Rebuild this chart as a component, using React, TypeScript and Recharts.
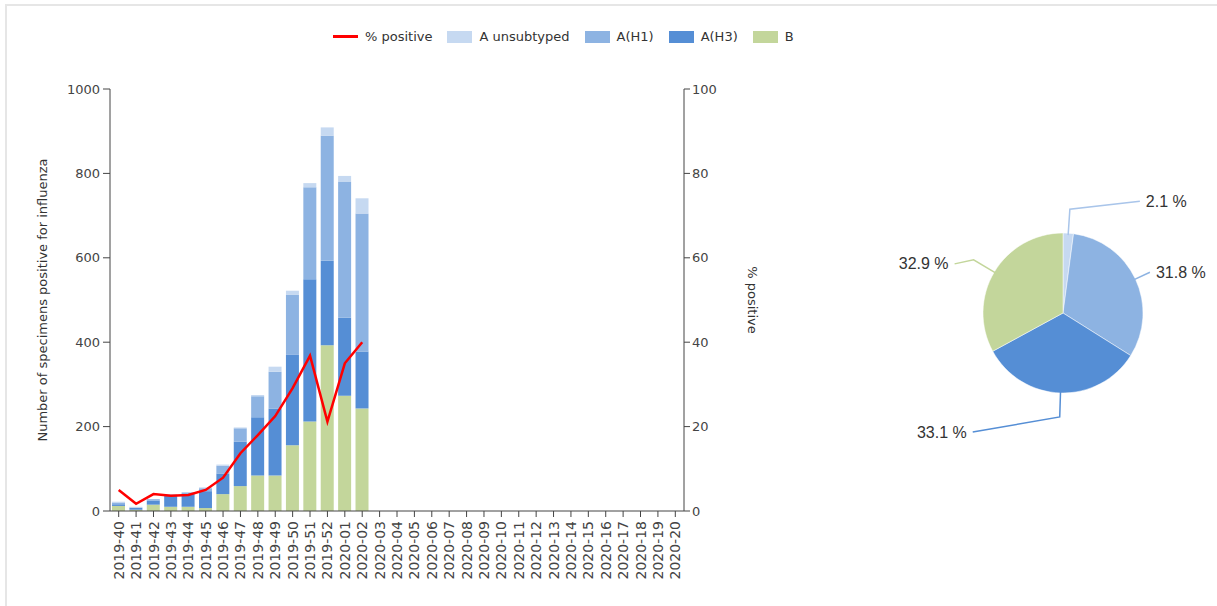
import {
  ComposedChart,
  Bar,
  Line,
  XAxis,
  YAxis,
  Legend,
  PieChart,
  Pie,
  Cell,
} from 'recharts'

// ── Data ──────────────────────────────────────────────────────────────────────
const weeks = [
  '2019-40', '2019-41', '2019-42', '2019-43', '2019-44', '2019-45', '2019-46',
  '2019-47', '2019-48', '2019-49', '2019-50', '2019-51', '2019-52', '2020-01',
  '2020-02', '2020-03', '2020-04', '2020-05', '2020-06', '2020-07', '2020-08',
  '2020-09', '2020-10', '2020-11', '2020-12', '2020-13', '2020-14', '2020-15',
  '2020-16', '2020-17', '2020-18', '2020-19', '2020-20',
]

const bCounts = [12, 3, 15, 10, 10, 7, 40, 59, 84, 84, 156, 212, 393, 273, 243]
const h3Counts = [4, 5, 10, 26, 30, 40, 49, 105, 138, 159, 214, 337, 200, 185, 135]
const h1Counts = [3, 0, 3, 3, 4, 7, 18, 32, 50, 87, 142, 218, 296, 323, 327]
const unsubCounts = [3, 2, 0, 1, 0, 2, 3, 2, 3, 12, 10, 10, 20, 13, 36]
const pctPositive = [5, 1.7, 4, 3.6, 3.8, 5, 7.9, 13.7, 18, 22.5, 29.1, 36.8, 21.2, 35, 40]

const leftTicks = [0, 200, 400, 600, 800, 1000]
const rightTicks = [0, 20, 40, 60, 80, 100]

const pieLabels = ['A unsubtyped', 'A(H1)', 'A(H3)', 'B']
const pieShares = [2.1, 31.8, 33.1, 32.9]

// ── Styling ───────────────────────────────────────────────────────────────────
const COLORS = {
  unsub: '#c6d9f1',
  h1: '#8db3e2',
  h3: '#558ed5',
  b: '#c3d69b',
  line: '#ff0000',
}
const pieColors = [COLORS.unsub, COLORS.h1, COLORS.h3, COLORS.b]
const pieLineColors = ['#a9c5ea', COLORS.h1, COLORS.h3, COLORS.b]
// leader line shape per slice: radial reach past the rim, horizontal run, vertical nudge
const pieReach = [24, 16, 24, 24]
const pieRuns = [70, 0, 87, 19]
const pieLift = [-8, 0, 15, 4]

const FONT = '"DejaVu Sans", sans-serif'
const AXIS = '#444'

const rows = weeks.map((week, i) => ({
  week,
  b: bCounts[i] ?? null,
  h3: h3Counts[i] ?? null,
  h1: h1Counts[i] ?? null,
  unsub: unsubCounts[i] ?? null,
  pct: pctPositive[i] ?? null,
}))

const pieData = pieLabels.map((name, i) => ({ name, value: pieShares[i] }))

const legendItems = [
  { label: '% positive', color: COLORS.line, kind: 'line' },
  { label: 'A unsubtyped', color: COLORS.unsub, kind: 'rect' },
  { label: 'A(H1)', color: COLORS.h1, kind: 'rect' },
  { label: 'A(H3)', color: COLORS.h3, kind: 'rect' },
  { label: 'B', color: COLORS.b, kind: 'rect' },
]

// ── Pieces ────────────────────────────────────────────────────────────────────
function WeekTick({ x, y, payload }: any) {
  return (
    <text
      x={x}
      y={y}
      transform={`rotate(-90 ${x} ${y})`}
      textAnchor="end"
      dy="0.36em"
      fontSize={14}
      fontFamily={FONT}
      fill="#444"
    >
      {payload.value}
    </text>
  )
}

function TopLegend() {
  return (
    <div style={{ display: 'flex', alignItems: 'center', fontFamily: FONT, fontSize: 13, color: '#333' }}>
      {legendItems.map((it) => (
        <div key={it.label} style={{ display: 'flex', alignItems: 'center', marginRight: 15 }}>
          {it.kind === 'line' ? (
            <div style={{ width: 25, height: 3, background: it.color, marginRight: 7 }} />
          ) : (
            <div style={{ width: 25, height: 12, background: it.color, marginRight: 7 }} />
          )}
          <span>{it.label}</span>
        </div>
      ))}
    </div>
  )
}

const RADIAN = Math.PI / 180

function PieLabel({ cx, cy, midAngle, outerRadius, index, value }: any) {
  const cos = Math.cos(-midAngle * RADIAN)
  const sin = Math.sin(-midAngle * RADIAN)
  const reach = pieReach[index] ?? 24
  const sx = cx + (outerRadius - 2) * cos
  const sy = cy + (outerRadius - 2) * sin
  const ex = cx + (outerRadius + reach) * cos
  const ey = cy + (outerRadius + reach) * sin
  const right = cos >= 0
  const run = pieRuns[index] ?? 20
  const tx = ex + (right ? run : -run)
  const ty = ey + (pieLift[index] ?? 0)
  return (
    <g>
      <polyline
        points={`${sx},${sy} ${ex},${ey} ${tx},${ty}`}
        fill="none"
        stroke={pieLineColors[index]}
        strokeWidth={1.5}
      />
      <text
        x={tx + (right ? 6 : -6)}
        y={ty}
        dy="0.35em"
        textAnchor={right ? 'start' : 'end'}
        fontSize={16}
        fontFamily='"Liberation Sans", Arial, sans-serif'
        fill="#333"
      >
        {`${value.toFixed(1)} %`}
      </text>
    </g>
  )
}

// ── Main ──────────────────────────────────────────────────────────────────────
export default function App() {
  return (
    <div
      style={{
        position: 'absolute',
        left: 0,
        top: 0,
        width: 1217,
        height: 606,
        background: '#fff',
        overflow: 'hidden',
      }}
    >
      <div
        style={{
          position: 'absolute',
          left: 5,
          top: 4,
          right: 0,
          bottom: 0,
          borderTop: '2px solid #e6e6e6',
          borderLeft: '2px solid #e6e6e6',
        }}
      />

      <div style={{ position: 'absolute', left: 0, top: 0 }}>
        <ComposedChart
          width={800}
          height={606}
          data={rows}
          margin={{ top: 89, right: 56, bottom: 5, left: 50 }}
        >
          <XAxis
            dataKey="week"
            interval={0}
            height={90}
            tick={<WeekTick />}
            tickSize={6}
            tickMargin={4}
            stroke={AXIS}
          />
          <YAxis
            yAxisId="left"
            domain={[0, 1000]}
            ticks={leftTicks}
            width={60}
            tickSize={7}
            tickMargin={3}
            stroke={AXIS}
            tick={{ fontSize: 13, fontFamily: FONT, fill: '#444' }}
            label={{
              value: 'Number of specimens positive for influenza',
              angle: -90,
              position: 'center',
              dx: -38,
              style: { fontSize: 13, fontFamily: FONT, fill: '#333' },
            }}
          />
          <YAxis
            yAxisId="right"
            orientation="right"
            domain={[0, 100]}
            ticks={rightTicks}
            width={60}
            tickSize={6}
            tickMargin={2}
            stroke={AXIS}
            tick={{ fontSize: 13, fontFamily: FONT, fill: '#444' }}
            label={{
              value: '% positive',
              angle: 90,
              position: 'center',
              dx: 39,
              style: { fontSize: 13, fontFamily: FONT, fill: '#333' },
            }}
          />
          <Legend
            content={<TopLegend />}
            layout="horizontal"
            verticalAlign="middle"
            align="center"
            wrapperStyle={{ top: 29, left: 333, width: 520 }}
          />
          <Bar yAxisId="left" dataKey="b" stackId="flu" fill={COLORS.b} barSize={13} isAnimationActive={false} />
          <Bar yAxisId="left" dataKey="h3" stackId="flu" fill={COLORS.h3} barSize={13} isAnimationActive={false} />
          <Bar yAxisId="left" dataKey="h1" stackId="flu" fill={COLORS.h1} barSize={13} isAnimationActive={false} />
          <Bar yAxisId="left" dataKey="unsub" stackId="flu" fill={COLORS.unsub} barSize={13} isAnimationActive={false} />
          <Line
            yAxisId="right"
            type="linear"
            dataKey="pct"
            stroke={COLORS.line}
            strokeWidth={2.5}
            dot={false}
            activeDot={false}
            isAnimationActive={false}
          />
        </ComposedChart>
      </div>

      <div style={{ position: 'absolute', left: 860, top: 150 }}>
        <PieChart width={357} height={320}>
          <Pie
            data={pieData}
            dataKey="value"
            cx={198}
            cy={158}
            outerRadius={80}
            startAngle={90}
            endAngle={-270}
            stroke="#fff"
            strokeWidth={0.5}
            label={PieLabel}
            labelLine={false}
            isAnimationActive={false}
          >
            {pieData.map((d, i) => (
              <Cell key={d.name} fill={pieColors[i]} />
            ))}
          </Pie>
        </PieChart>
      </div>
    </div>
  )
}
